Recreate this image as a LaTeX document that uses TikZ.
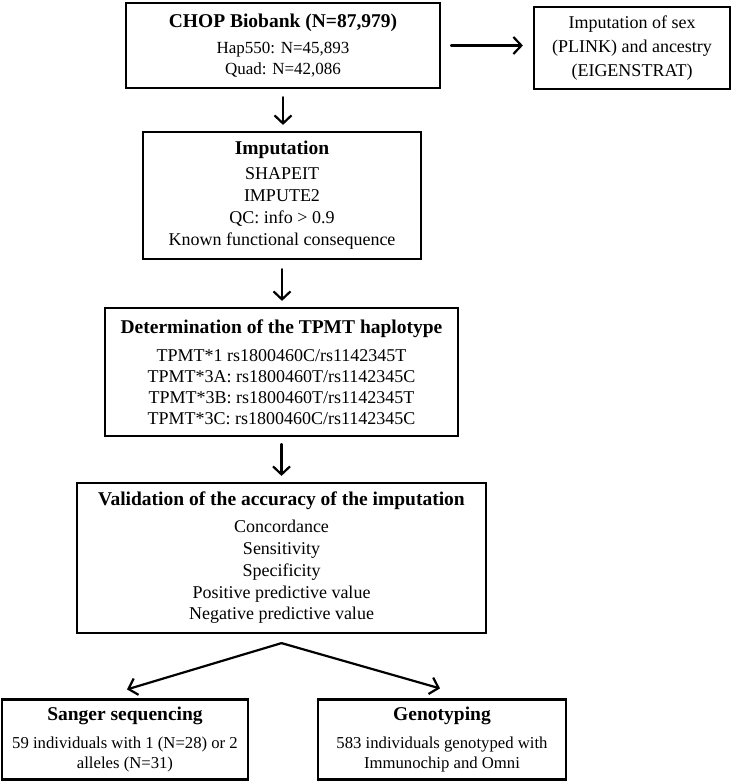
\documentclass[tikz,border=0pt]{standalone}
\usepackage{fontspec}
\setmainfont{Liberation Serif}
\usepackage{tikz}
\usetikzlibrary{calc,arrows.meta,positioning}
\tikzset{
box/.style={draw, line width=2.2pt, align=center, inner sep=0pt, font=\fontsize{18}{22}\selectfont}, % every box of the chart
arr/.style={-{Straight Barb[length=8pt,width=17pt,line width=2.2pt]}, line width=2.2pt, line cap=round}, % the arrows
}
\newcommand{\ttl}[1]{{\fontsize{19.5}{22}\selectfont\bfseries #1}}

\begin{document}
\begin{tikzpicture}[x=1pt,y=-1pt]
   \useasboundingbox (0,0) rectangle (737,781);
   \node[box, minimum width=314pt, minimum height=85pt, font=\fontsize{17}{20.5}\selectfont] (chop) at (283,45.5)
      {\ttl{CHOP Biobank (N=87,979)}\\[6pt] Hap550: N=45,893\\ Quad: N=42,086};
   \node[box, minimum width=196pt, minimum height=82pt, font=\fontsize{18}{24}\selectfont] (sexanc) at (632,48)
      {Imputation of sex\\ (PLINK) and ancestry\\ (EIGENSTRAT)};
   \node[box, minimum width=278pt, minimum height=127pt] (imput) at (282,195.5)
      {\ttl{Imputation}\\[3pt] SHAPEIT\\ IMPUTE2\\ QC: info > 0.9\\ Known functional consequence};
   \node[box, minimum width=353pt, minimum height=128pt, font=\fontsize{18}{21}\selectfont] (tpmt) at (281.5,372)
      {\ttl{Determination of the TPMT haplotype}\\[7pt] TPMT*1 rs1800460C/rs1142345T\\ TPMT*3A: rs1800460T/rs1142345C\\
       TPMT*3B: rs1800460T/rs1142345T\\ TPMT*3C: rs1800460C/rs1142345C};
   \node[box, minimum width=409pt, minimum height=150pt, font=\fontsize{18}{21.8}\selectfont] (valid) at (281.5,558)
      {\ttl{Validation of the accuracy of the imputation}\\[5pt] Concordance\\ Sensitivity\\ Specificity\\
       Positive predictive value\\ Negative predictive value};
   \node[box, minimum width=246pt, minimum height=80pt, font=\fontsize{16.7}{20}\selectfont] (sanger) at (125,739.5)
      {\ttl{Sanger sequencing}\\[8pt] 59 individuals with 1 (N=28) or 2\\ alleles (N=31)};
   \node[box, minimum width=248pt, minimum height=80pt, font=\fontsize{16.7}{20}\selectfont] (geno) at (442,739.5)
      {\ttl{Genotyping}\\[8pt] 583 individuals genotyped with\\ Immunochip and Omni};

   \coordinate (split) at ([yshift=-9pt]valid.south);
   \coordinate (sangtip) at ($(sanger.north)+(2,-9)$);
   \coordinate (genotip) at ($(geno.north)+(-2,-10)$);

   \draw[arr, shorten <=10pt, shorten >=10pt] (chop.east) -- (chop.east -| sexanc.west);
   \draw[arr, shorten <=8pt, shorten >=6pt] (chop.south) -- (chop.south |- imput.north);
   \draw[arr, shorten <=9pt, shorten >=6pt] (imput.south) -- (imput.south |- tpmt.north);
   \draw[arr, shorten <=7pt, shorten >=6pt] (tpmt.south) -- (tpmt.south |- valid.north);
   \draw[arr] (split) -- (sangtip);
   \draw[arr] (split) -- (genotip);
\end{tikzpicture}
\end{document}
